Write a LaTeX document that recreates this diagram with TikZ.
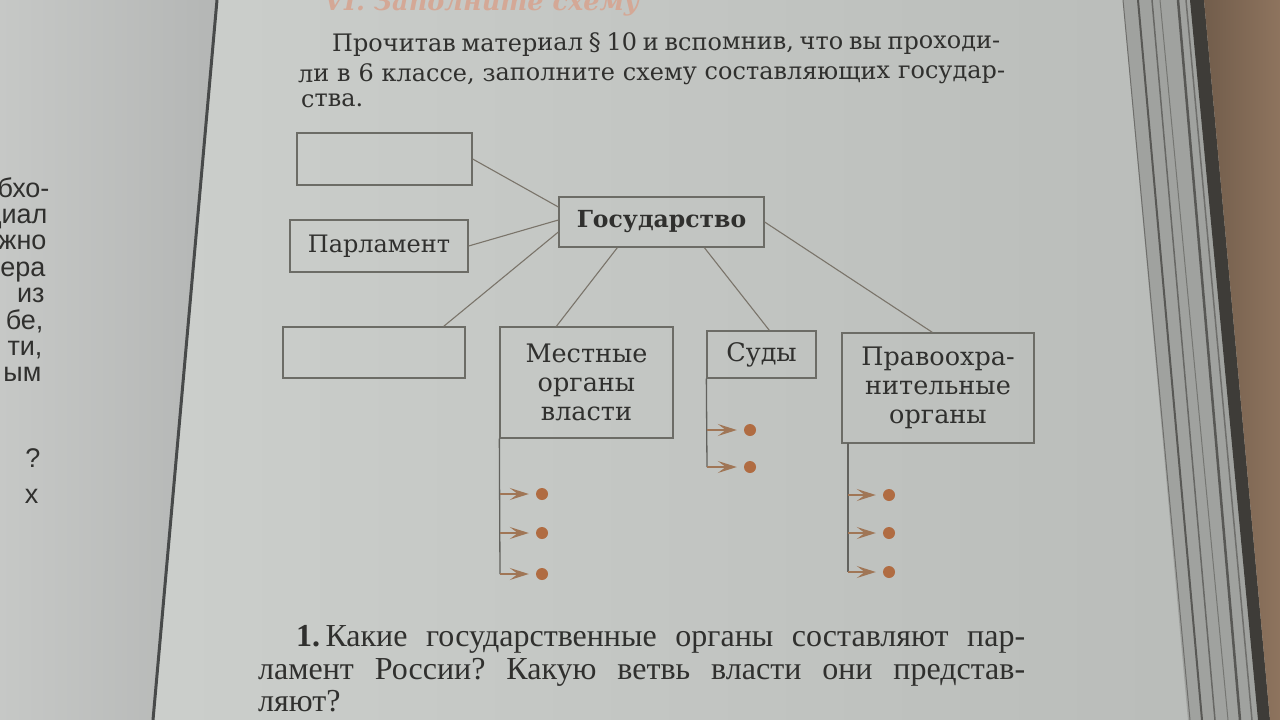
\documentclass[tikz,border=0pt]{standalone}
\usepackage{fontspec}
\setmainfont{DejaVu Serif}
\newfontfamily\qfont{Liberation Serif}
\newfontfamily\lsans{Liberation Sans}
\usetikzlibrary{arrows.meta,calc}
\frenchspacing
\definecolor{pagelt}{RGB}{206,209,206}
\definecolor{pagedk}{RGB}{184,187,184}
\definecolor{leftpg}{RGB}{198,200,198}
\definecolor{leftdk}{RGB}{180,182,181}
\definecolor{spinec}{RGB}{72,74,74}
\definecolor{ink}{RGB}{48,48,46}
\definecolor{boxline}{RGB}{108,108,102}
\definecolor{connc}{RGB}{122,116,106}
\definecolor{vlinec}{RGB}{98,98,94}
\definecolor{arrc}{RGB}{160,118,86}
\definecolor{dotc}{RGB}{176,108,66}
\definecolor{headc}{RGB}{212,168,150}
\definecolor{stackc}{RGB}{160,162,159}
\definecolor{stackdk}{RGB}{88,88,85}
\definecolor{bandc}{RGB}{62,60,56}
\definecolor{tablec}{RGB}{142,116,94}
\begin{document}
\begin{tikzpicture}[x=1pt,y=-1pt,
  box/.style={draw=boxline, line width=1.3pt, inner sep=0pt, text=ink, align=center},
  conn/.style={draw=connc, line width=1.1pt},
  vline/.style={draw=vlinec, line width=1.3pt},
  tick/.style={draw=arrc, line width=1.6pt, shorten >=7pt, -{Stealth[length=19pt,width=12pt,inset=8pt]}},
  dot/.style={circle, fill=dotc, minimum size=12pt, inner sep=0pt},
  frag/.style={anchor=base east, text=ink, font=\lsans\fontsize{27}{27}\selectfont},
  para/.style={anchor=base west, text=ink, inner sep=0pt, font=\fontsize{24}{24}\selectfont},
  ques/.style={anchor=base west, text=ink, inner sep=0pt, font=\qfont\fontsize{32}{32}\selectfont},
  lab/.style={font=\fontsize{25.5}{29}\selectfont}]
\useasboundingbox (0,0) rectangle (1280,720);
% page background
\shade[left color=pagelt, right color=pagedk] (0,0) rectangle (1280,720);
\shade[left color=leftpg, right color=leftdk] (0,0) -- (217,0) -- (153,720) -- (0,720) -- cycle;
\draw[spinec, line width=3pt] (217,0) -- (153,720);
% page stack and table at the right
\fill[stackc] (1123,0) -- (1192,0) -- (1262,720) -- (1188,720) -- cycle;
\draw[stackdk!70!stackc, line width=1pt] (1123,0) -- (1190,720);
\draw[stackdk, line width=2pt] (1138,0) -- (1202,720);
\draw[stackdk!80!stackc, line width=1.5pt] (1152,0) -- (1215,720);
\draw[stackdk!60!stackc, line width=1pt] (1160,0) -- (1228,720);
\draw[stackdk, line width=2.5pt] (1178,0) -- (1240,720);
\draw[stackdk!70!stackc, line width=1.5pt] (1186,0) -- (1252,720);
\fill[bandc] (1190,0) -- (1204,0) -- (1270,720) -- (1258,720) -- cycle;
\shade[left color=tablec!80!black, right color=tablec] (1204,0) -- (1280,0) -- (1280,720) -- (1270,720) -- cycle;
% left page fragments
\node[frag] (f1) at (53,197) {бхо-};
\node[frag] (f2) at (51,223) {диал};
\node[frag] (f3) at (50,249) {жно};
\node[frag] (f4) at (49,276) {ера};
\node[frag] (f5) at (48,302) {из};
\node[frag] (f6) at (47,329) {бе,};
\node[frag] (f7) at (46,355) {ти,};
\node[frag] (f8) at (45,381) {ым};
\node[frag] (f9) at (44,467) {?};
\node[frag] (f10) at (42,503) {х};
% heading (cut at top) and task text
\node[anchor=base west, inner sep=0pt, text=headc] (head) at (324,10)
  {\resizebox{315pt}{!}{\bfseries\itshape VI. Заполните схему}};
\node[para, rotate=0.3] (p1) at (332,52) {\makebox[668pt][s]{Прочитав материал § 10 и вспомнив, что вы проходи-}};
\node[para, rotate=0.3] (p2) at (298,82) {\makebox[707pt][s]{ли в 6 классе, заполните схему составляющих государ-}};
\node[para, rotate=0.3] (p3) at (301,107) {ства.};
% diagram boxes
\node[box, minimum width=175pt, minimum height=52pt] (tl) at (384.5,159) {};
\node[box, minimum width=178pt, minimum height=52pt, font=\fontsize{24}{29}\selectfont] (parl) at (379,246) {Парламент};
\node[box, minimum width=182pt, minimum height=51pt] (bl) at (374,352.5) {};
\node[box, minimum width=205pt, minimum height=50pt, font=\bfseries\fontsize{23.5}{26}\selectfont] (gos) at (661.5,222) {Государство};
\node[box, minimum width=173pt, minimum height=111pt, lab] (mest) at (586.5,382.5) {Местные\\органы\\власти};
\node[box, minimum width=109pt, minimum height=47pt, lab] (sud) at (761.5,354.5) {Суды};
\node[box, minimum width=192pt, minimum height=110pt, lab] (prav) at (938,388) {Правоохра-\\нительные\\органы};
% connectors
\draw[conn] (tl.east) -- ([yshift=15pt]gos.west);
\draw[conn] (parl.east) -- ([yshift=2pt]gos.west);
\draw[conn] ([xshift=-22pt]bl.north east) -- ([yshift=-10pt]gos.west);
\draw[conn] ([xshift=57pt]mest.north west) -- ([xshift=59pt]gos.south west);
\draw[conn] ([xshift=63pt]sud.north west) -- ([xshift=146pt]gos.south west);
\draw[conn] ([xshift=91pt]prav.north west) -- (gos.east);
% bullet lists
\coordinate (ma1) at (500,494);
\coordinate (ma2) at (500,533);
\coordinate (ma3) at (500,574);
\node[dot] (md1) at (542,494) {};
\node[dot] (md2) at (542,533) {};
\node[dot] (md3) at (542,574) {};
\draw[vline] (mest.south west) -- (ma3);
\foreach \i in {1,2,3} \draw[tick] (ma\i) -- (md\i);
\coordinate (sa1) at (707,430);
\coordinate (sa2) at (707,467);
\node[dot] (sd1) at (750,430) {};
\node[dot] (sd2) at (750,467) {};
\draw[vline] (sud.south west) -- (sa2);
\foreach \i in {1,2} \draw[tick] (sa\i) -- (sd\i);
\coordinate (pa0) at (848,443);
\coordinate (pa1) at (848,495);
\coordinate (pa2) at (848,533);
\coordinate (pa3) at (848,572);
\node[dot] (pd1) at (889,495) {};
\node[dot] (pd2) at (889,533) {};
\node[dot] (pd3) at (889,572) {};
\draw[vline] (pa0) -- (pa3);
\foreach \i in {1,2,3} \draw[tick] (pa\i) -- (pd\i);
% question
\node[ques] (q1) at (296,646) {\makebox[729pt][s]{\textbf{1.}\,Какие государственные органы составляют пар-}};
\node[ques] (q2) at (258,679) {\makebox[767pt][s]{ламент России? Какую ветвь власти они представ-}};
\node[ques] (q3) at (258,711) {ляют?};
\end{tikzpicture}
\end{document}
